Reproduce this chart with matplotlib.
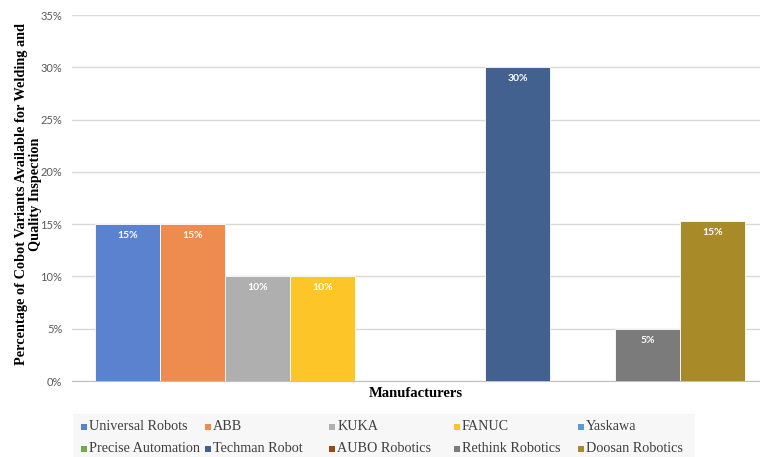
import matplotlib
matplotlib.use("Agg")
import matplotlib.pyplot as plt
from matplotlib.patches import Rectangle

manufacturers = ["Universal Robots", "ABB", "KUKA", "FANUC", "Yaskawa",
                 "Precise Automation", "Techman Robot", "AUBO Robotics",
                 "Rethink Robotics", "Doosan Robotics"]
percent = [15, 15, 10, 10, 0, 0, 30, 0, 5, 15.3]
bar_labels = ["15%", "15%", "10%", "10%", "", "", "30%", "", "5%", "15%"]
colors = ["#5B82CE", "#EE8B4E", "#AFAFAF", "#FEC528", "#5B9BD5",
          "#70AD47", "#43618F", "#9E480E", "#7B7B7B", "#A88A28"]
yticks = [0, 5, 10, 15, 20, 25, 30, 35]

W, H = 760, 457
fig = plt.figure(figsize=(W / 100, H / 100), dpi=100)
ax = fig.add_axes([72 / W, 1 - 381 / H, (760 - 72) / W, (381 - 15) / H])

x = list(range(len(manufacturers)))
ax.bar(x, percent, width=1.0, color=colors, edgecolor="white", linewidth=0.6, zorder=3)
for xi, v, lab in zip(x, percent, bar_labels):
    if lab:
        ax.text(xi, v - 1.1, lab, ha="center", va="center", color="white",
                fontsize=7.5, fontweight="bold", family="Lato", zorder=4)

ax.set_xlim(-0.5 - 23 / 65, 9.5 + 15 / 65)
ax.set_ylim(0, 35)
ax.set_yticks(yticks)
ax.set_yticklabels([f"{t}%" for t in yticks], family="Lato", fontsize=8, color="#595959")
ax.set_xticks([])
ax.tick_params(axis="y", length=0, pad=7)
ax.grid(axis="y", color="#D9D9D9", linewidth=1, zorder=0)
for s in ["top", "right", "left"]:
    ax.spines[s].set_visible(False)
ax.spines["bottom"].set_color("#BFBFBF")

ax.set_xlabel("Manufacturers", family="Liberation Serif", fontweight="bold",
              fontsize=10.5, labelpad=4)
fig.text(22 / W, 1 - 194 / H, "Percentage of Cobot Variants Available for Welding and",
         rotation=90, ha="center", va="center", family="Liberation Serif",
         fontweight="bold", fontsize=10.3)
fig.text(35 / W, 1 - 194 / H, "Quality Inspection",
         rotation=90, ha="center", va="center", family="Liberation Serif",
         fontweight="bold", fontsize=10.3)

# legend box, Excel style: equal column widths
fig.patches.append(Rectangle((73 / W, 0), (695 - 73) / W, (H - 414) / H,
                             transform=fig.transFigure, facecolor="#F7F7F7",
                             edgecolor="none", zorder=0))
for i, (name, c) in enumerate(zip(manufacturers, colors)):
    col, row = i % 5, i // 5
    px = 81 + col * 124.2
    py = 427 + row * 22
    fig.patches.append(Rectangle((px / W, 1 - (py + 3) / H), 6 / W, 6 / H,
                                 transform=fig.transFigure, facecolor=c,
                                 edgecolor="none"))
    fig.text((px + 8) / W, 1 - py / H, name, ha="left", va="center",
             family="Liberation Serif", fontsize=10.2, color="#404040")

fig.savefig("out.png", dpi=100)
